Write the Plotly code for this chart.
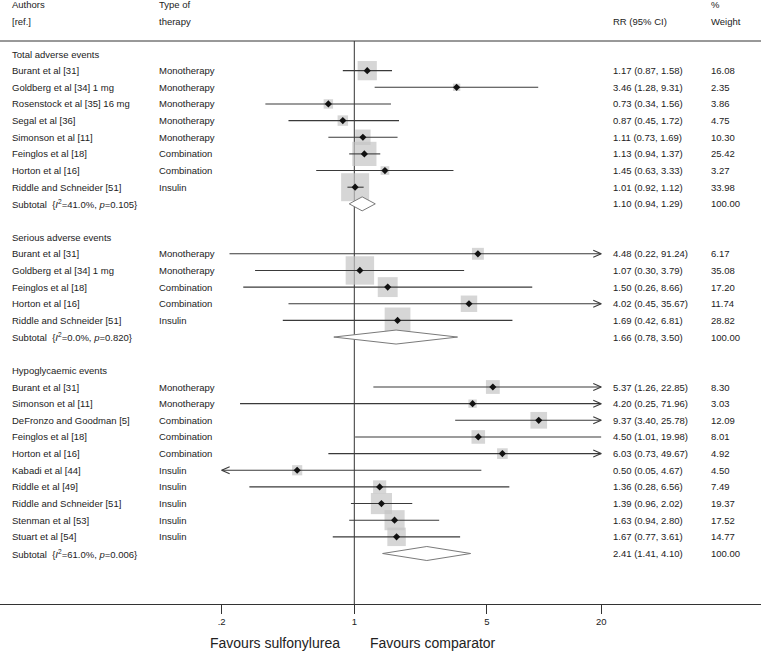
import numpy as np
import plotly.graph_objects as go

# ---------------- data ----------------
groups = ["Total adverse events", "Serious adverse events", "Hypoglycaemic events"]

total_authors = ["Burant et al [31]", "Goldberg et al [34] 1 mg", "Rosenstock et al [35] 16 mg",
                 "Segal et al [36]", "Simonson et al [11]", "Feinglos et al [18]",
                 "Horton et al [16]", "Riddle and Schneider [51]"]
total_therapy = ["Monotherapy", "Monotherapy", "Monotherapy", "Monotherapy", "Monotherapy",
                 "Combination", "Combination", "Insulin"]
total_rr = [1.17, 3.46, 0.73, 0.87, 1.11, 1.13, 1.45, 1.01]
total_lo = [0.87, 1.28, 0.34, 0.45, 0.73, 0.94, 0.63, 0.92]
total_hi = [1.58, 9.31, 1.56, 1.72, 1.69, 1.37, 3.33, 1.12]
total_w = [16.08, 2.35, 3.86, 4.75, 10.30, 25.42, 3.27, 33.98]

serious_authors = ["Burant et al [31]", "Goldberg et al [34] 1 mg", "Feinglos et al [18]",
                   "Horton et al [16]", "Riddle and Schneider [51]"]
serious_therapy = ["Monotherapy", "Monotherapy", "Combination", "Combination", "Insulin"]
serious_rr = [4.48, 1.07, 1.50, 4.02, 1.69]
serious_lo = [0.22, 0.30, 0.26, 0.45, 0.42]
serious_hi = [91.24, 3.79, 8.66, 35.67, 6.81]
serious_w = [6.17, 35.08, 17.20, 11.74, 28.82]

hypo_authors = ["Burant et al [31]", "Simonson et al [11]", "DeFronzo and Goodman [5]",
                "Feinglos et al [18]", "Horton et al [16]", "Kabadi et al [44]",
                "Riddle et al [49]", "Riddle and Schneider [51]", "Stenman et al [53]",
                "Stuart et al [54]"]
hypo_therapy = ["Monotherapy", "Monotherapy", "Combination", "Combination", "Combination",
                "Insulin", "Insulin", "Insulin", "Insulin", "Insulin"]
hypo_rr = [5.37, 4.20, 9.37, 4.50, 6.03, 0.50, 1.36, 1.39, 1.63, 1.67]
hypo_lo = [1.26, 0.25, 3.40, 1.01, 0.73, 0.05, 0.28, 0.96, 0.94, 0.77]
hypo_hi = [22.85, 71.96, 25.78, 19.98, 49.67, 4.67, 6.56, 2.02, 2.80, 3.61]
hypo_w = [8.30, 3.03, 12.09, 8.01, 4.92, 4.50, 7.49, 19.37, 17.52, 14.77]

subtotal_rr = [1.10, 1.66, 2.41]
subtotal_lo = [0.94, 0.78, 1.41]
subtotal_hi = [1.29, 3.50, 4.10]
subtotal_w = [100.00, 100.00, 100.00]
subtotal_i2 = [41.0, 0.0, 61.0]
subtotal_p = [0.105, 0.820, 0.006]

tick_vals = [0.2, 1, 5, 20]
tick_text = [".2", "1", "5", "20"]
clip_range = (0.2, 20)

# ---------------- geometry ----------------
W, H = 761, 653
MB = 49
X0_PX, PX_PER_DEC = 354.3, 189.8
ROW0_PX, ROW_PX = 54.0, 16.65
FONT = "Liberation Sans, Arial, Helvetica, sans-serif"
TXT = "#222222"
FS = 9.5
COL_AUTH, COL_THER, COL_RR, COL_W = 10, 156.5, 611, 709

xr = [-X0_PX / PX_PER_DEC, (W - X0_PX) / PX_PER_DEC]
yr = [(H - MB - ROW0_PX) / ROW_PX, -ROW0_PX / ROW_PX]

group_data = [
    (total_authors, total_therapy, total_rr, total_lo, total_hi, total_w),
    (serious_authors, serious_therapy, serious_rr, serious_lo, serious_hi, serious_w),
    (hypo_authors, hypo_therapy, hypo_rr, hypo_lo, hypo_hi, hypo_w),
]

ann = []


def txt(xpx, y, s, size=FS, yref="y"):
    ann.append(dict(x=xpx / W, xref="paper", y=y, yref=yref, text=s, showarrow=False,
                    xanchor="left", yanchor="middle",
                    font=dict(family=FONT, size=size, color=TXT)))


def ci_text(r, l, h):
    return f"{r:.2f} ({l:.2f}, {h:.2f})"


sq_x, sq_y, sq_s = [], [], []
ln_x, ln_y = [], []
ar_x, ar_y = [], []
dm_traces = []

back = 8 / PX_PER_DEC
half = 3.5 / ROW_PX
dh = 7.0 / ROW_PX

row = 0
for gi, (auth, ther, rr, lo, hi, w) in enumerate(group_data):
    txt(COL_AUTH, row, groups[gi])
    row += 1
    for a, t, r, l, h, ww in zip(auth, ther, rr, lo, hi, w):
        txt(COL_AUTH, row, a)
        txt(COL_THER, row, t)
        txt(COL_RR, row, ci_text(r, l, h))
        txt(COL_W, row, f"{ww:.2f}")
        sq_x.append(r); sq_y.append(row); sq_s.append(4.8 * np.sqrt(ww))
        lc, hc = max(l, clip_range[0]), min(h, clip_range[1])
        ln_x += [lc, hc, None]; ln_y += [row, row, None]
        if h > clip_range[1]:
            tip = np.log10(clip_range[1])
            ar_x += [10 ** (tip - back), clip_range[1], 10 ** (tip - back), None]
            ar_y += [row - half, row, row + half, None]
        if l < clip_range[0]:
            tip = np.log10(clip_range[0])
            ar_x += [10 ** (tip + back), clip_range[0], 10 ** (tip + back), None]
            ar_y += [row - half, row, row + half, None]
        row += 1
    # subtotal
    txt(COL_AUTH, row, f"Subtotal  {{<i>I</i><sup>2</sup>={subtotal_i2[gi]:.1f}%, "
                       f"<i>p</i>={subtotal_p[gi]:.3f}}}")
    txt(COL_RR, row, ci_text(subtotal_rr[gi], subtotal_lo[gi], subtotal_hi[gi]))
    txt(COL_W, row, f"{subtotal_w[gi]:.2f}")
    dm_traces.append(go.Scatter(
        x=[subtotal_lo[gi], subtotal_rr[gi], subtotal_hi[gi], subtotal_rr[gi], subtotal_lo[gi]],
        y=[row, row - dh, row, row + dh, row],
        mode="lines", fill="toself", fillcolor="white",
        line=dict(color="#7a7a7a", width=1), hoverinfo="skip", showlegend=False))
    row += 2

# headers
txt(COL_AUTH, -3.0, "Authors")
txt(COL_AUTH, -1.98, "[ref.]")
txt(COL_THER, -3.0, "Type of")
txt(COL_THER, -1.98, "therapy")
txt(COL_RR, -1.98, "RR (95% CI)")
txt(COL_W, -3.0, "%")
txt(COL_W, -1.98, "Weight")

sep_y = -0.78

# favours labels
fav_y = -(643 - (H - MB)) / (H - MB)
ann.append(dict(x=342 / W, xref="paper", y=fav_y, yref="paper", text="Favours sulfonylurea",
                showarrow=False, xanchor="right", yanchor="middle",
                font=dict(family=FONT, size=14, color=TXT)))
ann.append(dict(x=368 / W, xref="paper", y=fav_y, yref="paper", text="Favours comparator",
                showarrow=False, xanchor="left", yanchor="middle",
                font=dict(family=FONT, size=14, color=TXT)))

fig = go.Figure()
fig.add_trace(go.Scatter(x=sq_x, y=sq_y, mode="markers",
                         marker=dict(symbol="square", size=sq_s, color="#c4c4c4",
                                     line=dict(width=0)),
                         hoverinfo="skip", showlegend=False, cliponaxis=False))
fig.add_trace(go.Scatter(x=ln_x, y=ln_y, mode="lines", line=dict(color="#3a3a3a", width=1.1),
                         hoverinfo="skip", showlegend=False))
fig.add_trace(go.Scatter(x=ar_x, y=ar_y, mode="lines", line=dict(color="#3a3a3a", width=1.1),
                         hoverinfo="skip", showlegend=False))
fig.add_trace(go.Scatter(x=sq_x, y=sq_y, mode="markers",
                         marker=dict(symbol="diamond", size=5.5, color="#111111",
                                     line=dict(width=0)),
                         hoverinfo="skip", showlegend=False))
for t in dm_traces:
    fig.add_trace(t)

fig.add_shape(type="line", xref="paper", x0=0, x1=1, yref="y", y0=sep_y, y1=sep_y,
              line=dict(color="#333333", width=1), layer="below")
fig.add_shape(type="line", xref="x", x0=1, x1=1, yref="y", y0=sep_y, y1=yr[0],
              line=dict(color="#333333", width=1), layer="below")

fig.update_layout(
    width=W, height=H,
    margin=dict(l=0, r=0, t=0, b=MB, pad=0),
    paper_bgcolor="white", plot_bgcolor="white",
    annotations=ann,
    xaxis=dict(type="log", range=xr, tickvals=tick_vals, ticktext=tick_text,
               ticks="outside", ticklen=9, tickwidth=1, tickcolor="#333333",
               showline=True, linecolor="#333333", linewidth=1,
               showgrid=False, zeroline=False, fixedrange=True,
               tickfont=dict(family=FONT, size=FS, color=TXT)),
    yaxis=dict(range=yr, showticklabels=False, showgrid=False, zeroline=False,
               showline=False, ticks="", fixedrange=True),
    showlegend=False,
    hovermode=False,
)

fig.write_html("out.html", config={"displayModeBar": False, "staticPlot": True},
               post_script="document.body.style.margin='0';document.body.style.overflow='hidden';")
